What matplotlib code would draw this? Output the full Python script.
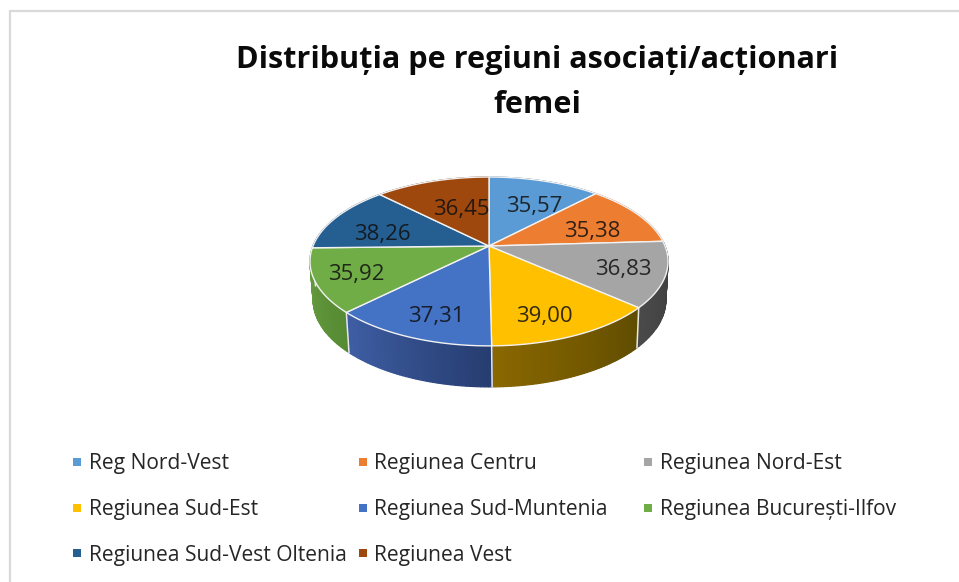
import numpy as np
import matplotlib
matplotlib.use("Agg")
import matplotlib.pyplot as plt
from matplotlib.patches import Rectangle
from matplotlib.colors import to_rgb

# ---- data ----
regions = ["Reg Nord-Vest", "Regiunea Centru", "Regiunea Nord-Est",
           "Regiunea Sud-Est", "Regiunea Sud-Muntenia", "Regiunea București-Ilfov",
           "Regiunea Sud-Vest Oltenia", "Regiunea Vest"]
values = [35.57, 35.38, 36.83, 39.00, 37.31, 35.92, 38.26, 36.45]
value_labels = ["35,57", "35,38", "36,83", "39,00", "37,31", "35,92", "38,26", "36,45"]
title_lines = ["Distribuția pe regiuni asociați/acționari", "femei"]

# ---- style ----
top_colors = ["#5B9BD5", "#ED7D31", "#A5A5A5", "#FFC000", "#4472C4", "#70AD47", "#255E91", "#9E480E"]
side_start = ["#3f6d96", "#a65722", "#3a3a3a", "#5f4c00", "#263d70", "#568a33", "#1c466c", "#6e320a"]
side_end = ["#3f6d96", "#a65722", "#4a4a4a", "#8a6700", "#3f5fa6", "#6ea346", "#1c466c", "#6e320a"]
label_offsets = [(3, 9), (-6, 9), (9, 3), (-4, 10), (2, 8), (-10, 4), (5, 10), (15, 12)]

CX, CY = 489.0, 246.0
B, A, K = 176.0, 81.6, 0.183


def project(theta_deg, r=1.0):
    t = np.radians(theta_deg)
    x, y = r * np.sin(t), -r * np.cos(t)
    d = 1 - K * y
    return CX + B * x / d, CY + A * y / d


def project_low(theta_deg):
    t = np.radians(theta_deg)
    x, y = project(theta_deg)
    return CX + (x - CX) * 0.985 + 0.5, y + 38 + 3 * (-np.cos(t))


fig = plt.figure(figsize=(9.59, 5.82), dpi=100, facecolor="white")
ax = fig.add_axes([0, 0, 1, 1])
ax.set_xlim(0, 959)
ax.set_ylim(582, 0)
ax.axis("off")

# frame (left and top only; the rest is cropped)
ax.plot([10, 10, 959], [582, 10.5, 10.5], color="#d9d9d9", lw=1.6, solid_joinstyle="miter")

edges = np.concatenate([[0], np.cumsum(values)]) / np.sum(values) * 360

# side wall
strips = []
for i in range(len(values)):
    a0, a1 = edges[i], edges[i + 1]
    n = max(int(a1 - a0), 2)
    grid = np.linspace(a0, a1, n + 1)
    c0, c1 = np.array(to_rgb(side_start[i])), np.array(to_rgb(side_end[i]))
    for j in range(n):
        frac = (j + 0.5) / n
        strips.append((grid[j], grid[j + 1], c0 + (c1 - c0) * frac))
strips.sort(key=lambda s: -np.cos(np.radians((s[0] + s[1]) / 2)))
for a0, a1, col in strips:
    x0, y0 = project(a0)
    x1, y1 = project(a1)
    x2, y2 = project_low(a1)
    x3, y3 = project_low(a0)
    ax.fill([x0, x1, x2, x3], [y0, y1, y2, y3], facecolor=col, edgecolor=col, lw=0.9, zorder=2)
for a in edges[:-1]:
    if 90 < a < 270:
        x0, y0 = project(a)
        x1, y1 = project_low(a)
        ax.plot([x0, x1], [y0, y1], color="#e8e8e8", lw=1.1, zorder=3)

# top face
for i in range(len(values)):
    th = np.linspace(edges[i], edges[i + 1], 80)
    xs, ys = project(th)
    ax.fill(np.r_[CX, xs], np.r_[CY, ys], facecolor=top_colors[i], edgecolor="#f2f2f2",
            lw=1.0, joinstyle="round", zorder=4)

# data labels
for i, lab in enumerate(value_labels):
    mid = (edges[i] + edges[i + 1]) / 2
    x, y = project(mid, 0.72)
    dx, dy = label_offsets[i]
    ax.text(x + dx, y + dy, lab, ha="center", va="center", fontsize=16,
            family="Open Sans", color="#101010", alpha=0.85, zorder=5)

# title
for line, y in zip(title_lines, [60, 105]):
    ax.text(537, y, line, ha="center", va="center", fontsize=22.05, fontweight="bold",
            family="Open Sans", color="#0a0a0a")

# legend
col_x = [73, 358.5, 644]
row_y = [464, 510, 555]
for i, name in enumerate(regions):
    x, y = col_x[i % 3], row_y[i // 3]
    ax.add_patch(Rectangle((x, y - 6), 8, 8, facecolor=top_colors[i], edgecolor="none"))
    ax.text(x + 16, y, name, ha="left", va="center", fontsize=15.1,
            family="Open Sans", color="#262626")

fig.savefig("out.png", dpi=100, facecolor="white")
